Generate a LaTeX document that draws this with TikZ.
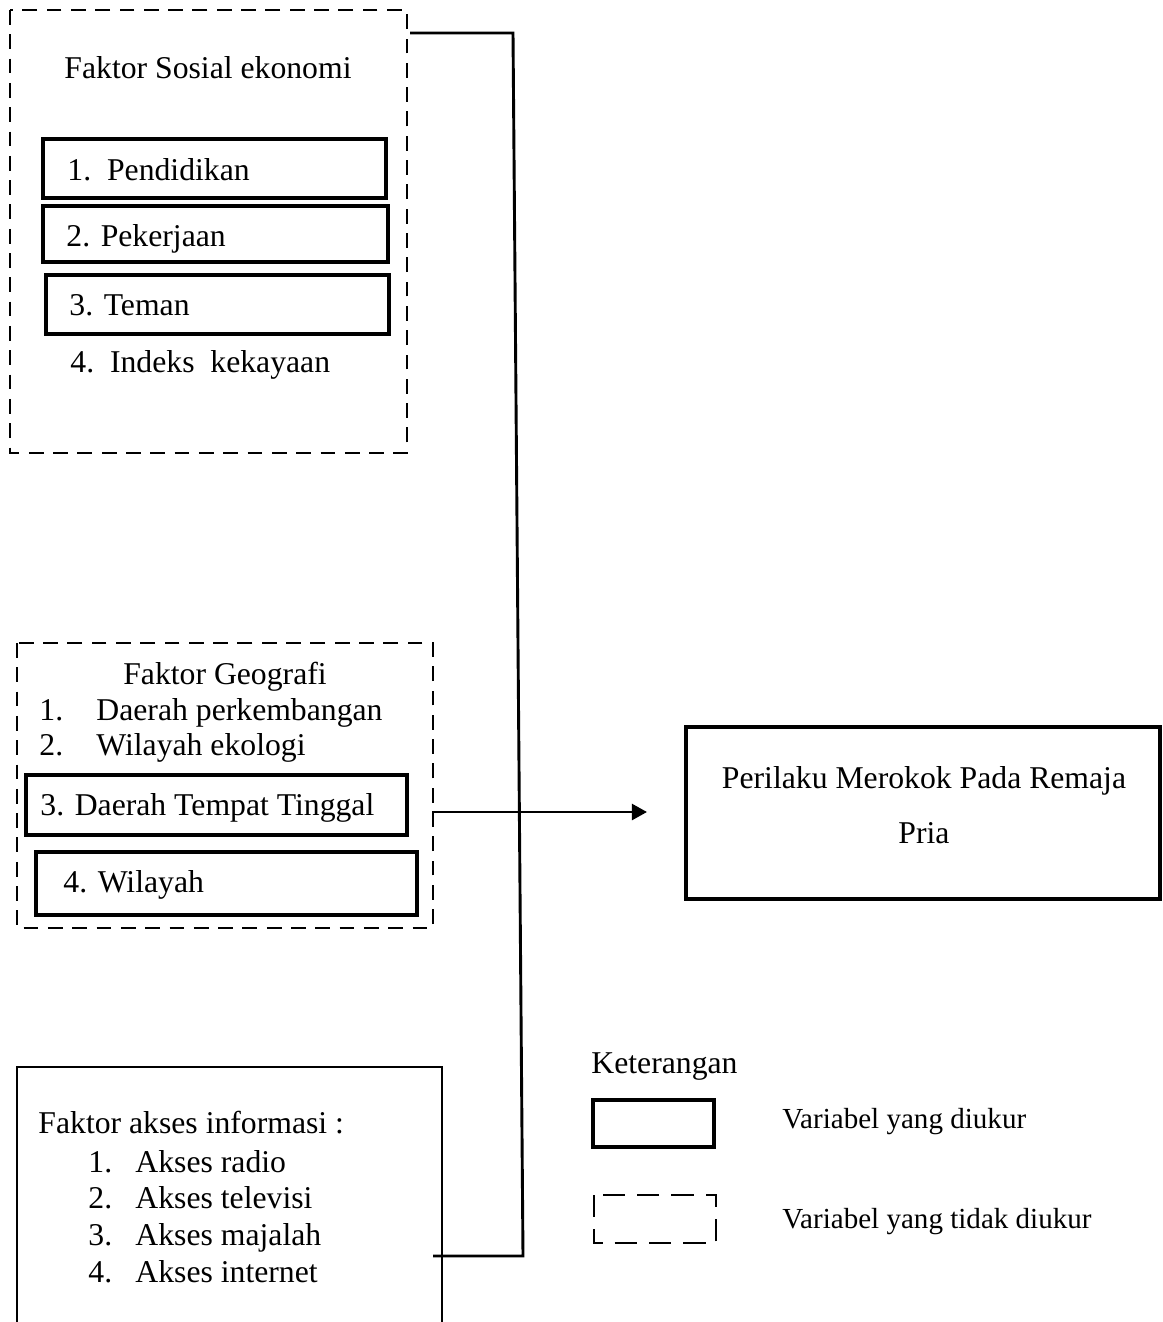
\documentclass[tikz,border=0pt]{standalone}
\usepackage{fontspec}
\setmainfont{Liberation Serif}
\usetikzlibrary{arrows.meta}

\tikzset{
  txt/.style={font=\fontsize{12}{14}\selectfont, inner sep=0pt, anchor=base west},
  smalltxt/.style={txt, font=\fontsize{11}{13}\selectfont},
  itembox/.style={draw, line width=1.2pt},
  dashbox/.style={draw, line width=1.1pt, dash pattern=on 5.6pt off 3.6pt},
  legdash/.style={draw, line width=1.1pt, dash pattern=on 8.4pt off 4.6pt}
}

\begin{document}
\begin{tikzpicture}[x=0.3785pt, y=-0.3785pt, line width=1.1pt]
\useasboundingbox (0,0) rectangle (1162,1322);
% Faktor sosial ekonomi (tidak diukur)
\draw[dashbox] (10,10) rectangle (407,453);
\node[txt, anchor=base] (sosTitle) at (208,78) {Faktor Sosial ekonomi};
\draw[itembox] (43,139) rectangle (386,198);
\node[txt] (pend) at (66,180) {1.\ \ Pendidikan};
\draw[itembox] (43,206) rectangle (388,262);
\node[txt] (pek) at (65,246) {2. Pekerjaan};
\draw[itembox] (46,275) rectangle (389,334);
\node[txt] (teman) at (68,315) {3. Teman};
\node[txt] (indeks) at (69,372) {4.\ \ Indeks\ \ kekayaan};
% Faktor geografi
\draw[dashbox] (17,643) rectangle (433,928);
\node[txt, anchor=base] (geoTitle) at (225,684) {Faktor Geografi};
\node[txt] (geoNum1) at (38,720) {1.};
\node[txt] (geo1) at (95,720) {Daerah perkembangan};
\node[txt] (geoNum2) at (38,755) {2.};
\node[txt] (geo2) at (95,755) {Wilayah ekologi};
\draw[itembox] (26,775) rectangle (407,835);
\node[txt] (geo3) at (39,815) {3. Daerah Tempat Tinggal};
\draw[itembox] (36,852) rectangle (417,915);
\node[txt] (geo4) at (62,892) {4. Wilayah};
% Faktor akses informasi (box runs off the page)
\draw (17,1322) -- (17,1067) -- (442,1067) -- (442,1322);
\node[txt] (aksTitle) at (37,1133) {Faktor akses informasi :};
\foreach \i/\t/\y in {1/radio/1172, 2/televisi/1208, 3/majalah/1245, 4/internet/1282} {
  \node[txt] (aksNum\i) at (87,\y) {\i.};
  \node[txt] (akses\i) at (134,\y) {Akses \t};
}
% Perilaku merokok
\draw[itembox] (686,727) rectangle (1160,899);
\node[txt, anchor=base] (hasil1) at (924,788) {Perilaku Merokok Pada Remaja};
\node[txt, anchor=base] (hasil2) at (924,843) {Pria};
% Connectors
\coordinate (sosE) at (410,33);
\coordinate (busTop) at (513,33);
\coordinate (busBot) at (523,1256);
\coordinate (aksE) at (433,1256);
\coordinate (geoE) at (432,812);
\coordinate (hasilW) at (647,812);
\draw (sosE) -- (busTop) -- (busBot) -- (aksE);
\draw[-{Triangle[length=5.7pt, width=6pt]}] (geoE) -- (hasilW);
% Keterangan
\node[txt] (ket) at (590,1073) {Keterangan};
\draw[itembox] (593,1100) rectangle (714,1147);
\node[smalltxt] (lgUkur) at (781,1128) {Variabel yang diukur};
\draw[legdash] (594,1195) rectangle (716,1243);
\node[smalltxt] (lgTidak) at (781,1228) {Variabel yang tidak diukur};
\end{tikzpicture}
\end{document}
